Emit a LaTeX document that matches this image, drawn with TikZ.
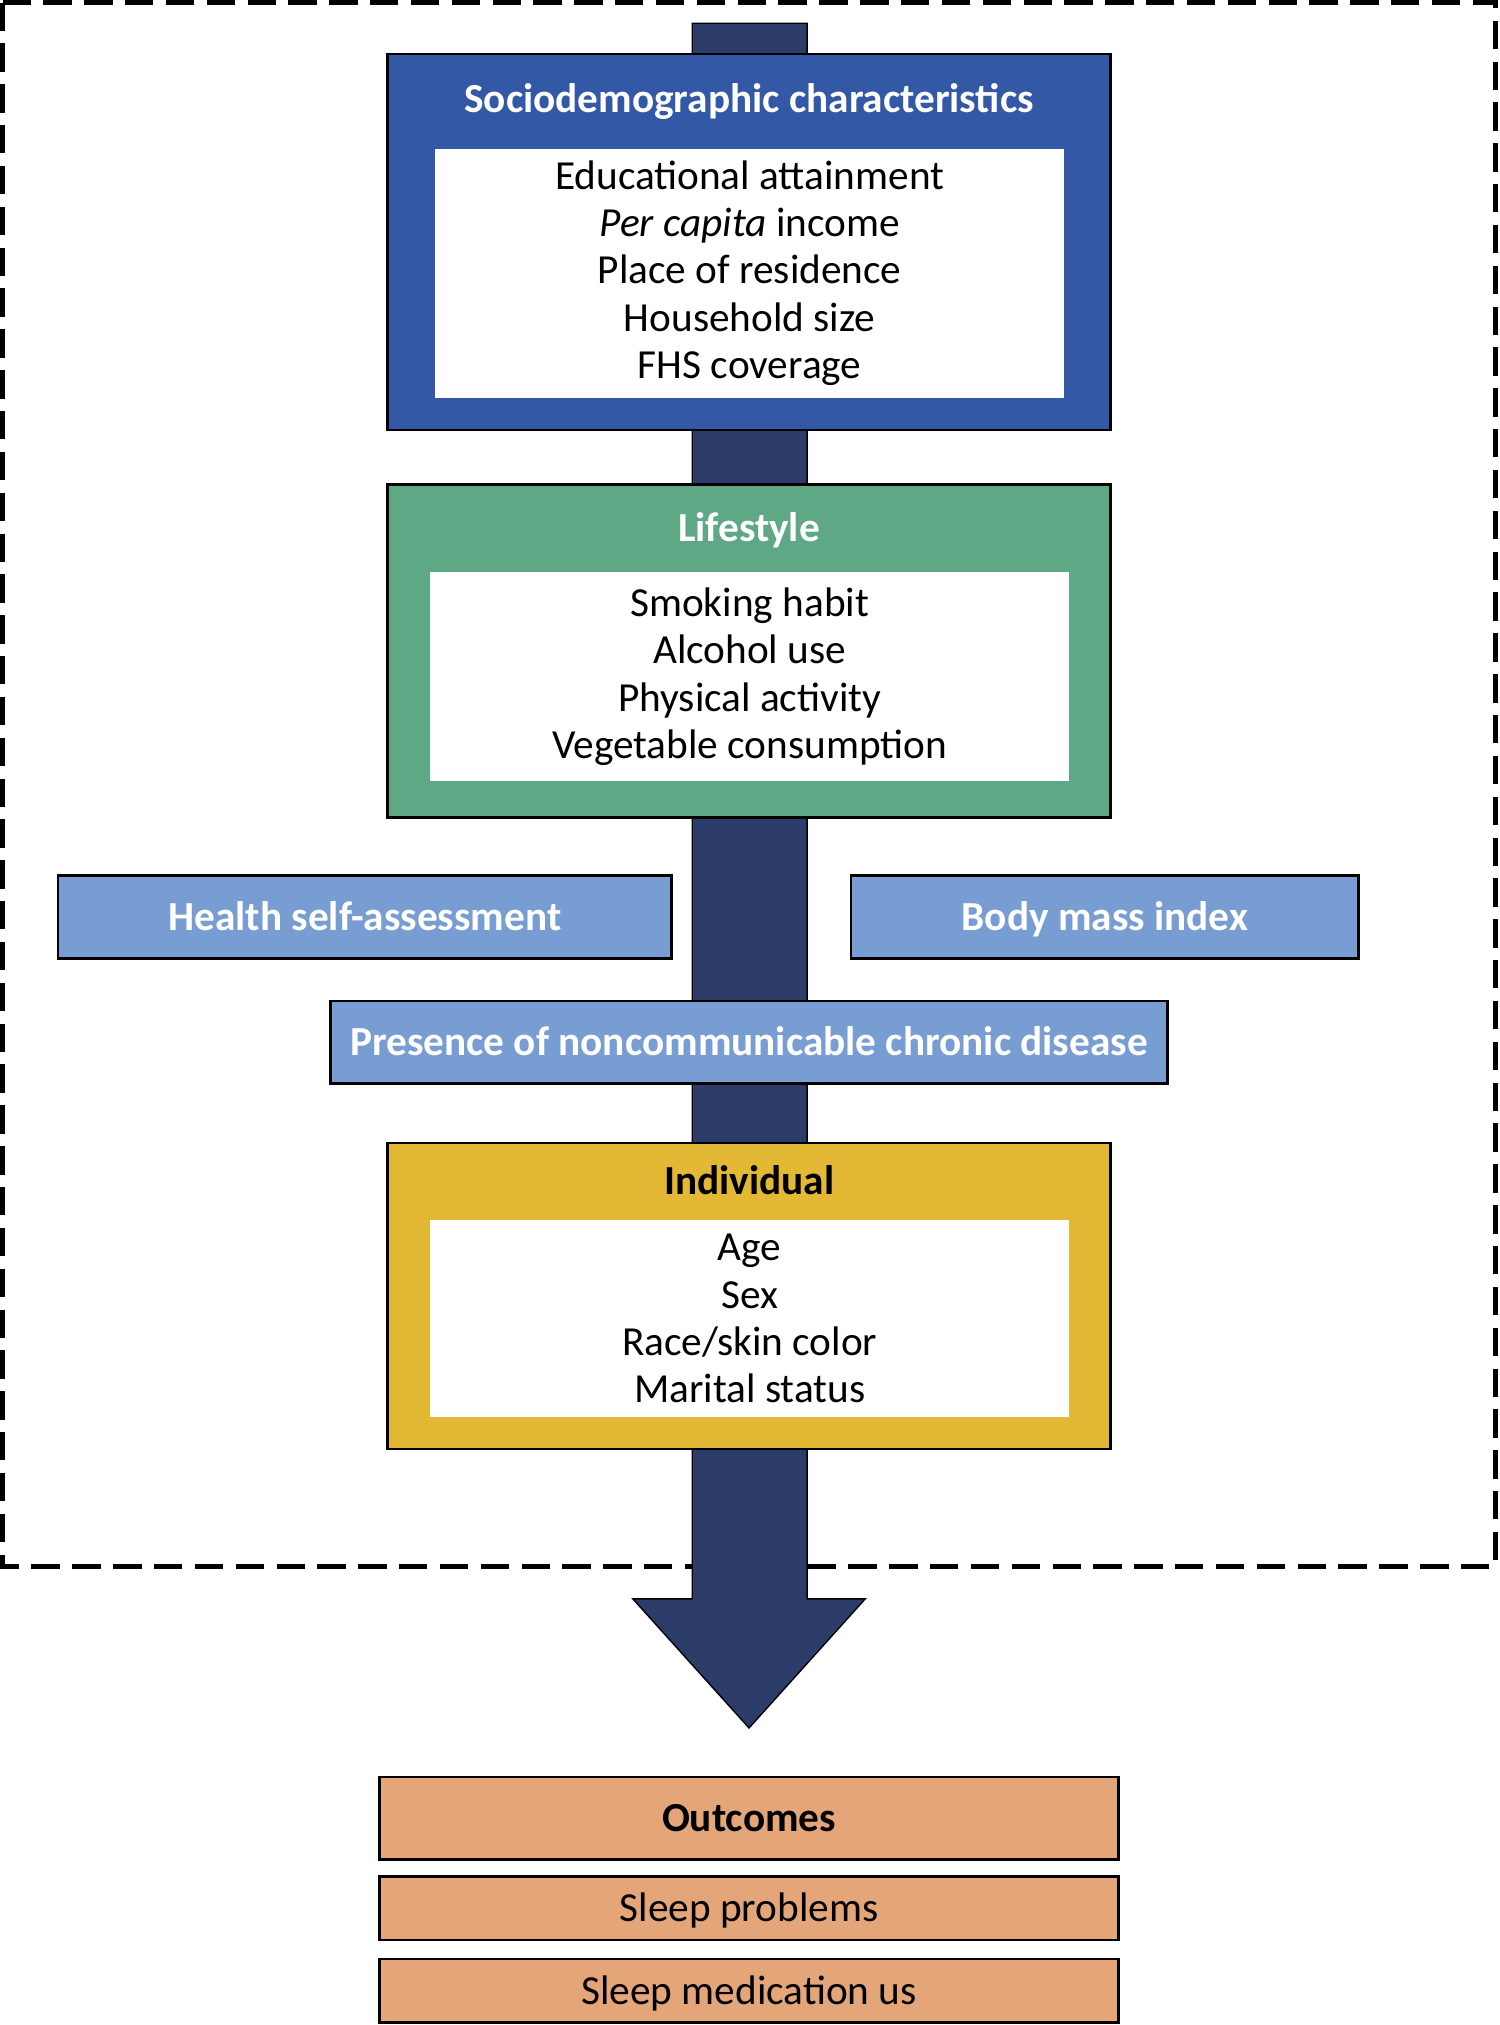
\documentclass[tikz,border=0pt]{standalone}
\usepackage{fontspec}
\setmainfont{Carlito}
\usetikzlibrary{positioning}
\definecolor{SocioBlue}{RGB}{51,88,166}
\definecolor{LifeGreen}{RGB}{94,168,133}
\definecolor{PaleBlue}{RGB}{120,157,210}
\definecolor{IndivYellow}{RGB}{226,184,52}
\definecolor{OutOrange}{RGB}{228,166,121}
\definecolor{ArrowNavy}{RGB}{44,61,106}
\newcommand{\figfont}{\fontsize{18.2}{20.8}\selectfont}

\begin{document}
\begin{tikzpicture}[
    declare function={u=0.02;},
    yscale=-1,x=u*1cm,y=u*1cm,
    box color/.code={\colorlet{boxcolor}{#1}},
    box color=SocioBlue,
    box/.style args={#1/#2 to #3/#4}{%
            draw=black,fill=boxcolor,line width=1.1pt,
            at={(#1,#2)},align=center,
            font=\figfont,
            anchor=north west,outer sep=0pt,inner sep=0pt,
            minimum width={(#3-#1)*u*1cm},
            minimum height={(#4-#2)*u*1cm}},
    list box/.style args={#1/#2 to #3/#4}{box={#1/#2 to #3/#4},
            draw=none,fill=white},
    one line/.style={text height=13pt,text depth=1.3pt},
    head/.style={font=\figfont\bfseries,text=white,one line},
    dark head/.style={font=\figfont\bfseries,text=black,one line}]
    \useasboundingbox (0,0) rectangle (1161,1568);
    % dashed frame round the determinants
    \draw[line width=2.2pt,dash pattern=on 12.5pt off 5.5pt] (2,2) rectangle (1158,1213);
    % the big arrow
    \coordinate (shafttop) at (580,18);
    \coordinate (tip) at (580,1338);
    \filldraw[fill=ArrowNavy,draw=black,line width=0.6pt]
       (536,18) -- (625,18) -- (625,1238) -- (670,1238) -- (tip)
       -- (490,1238) -- (536,1238) -- cycle;
    % sociodemographic
    \node[box=300/42 to 860/333] (socio) {};
    \node[head] (sociohead) at (580,77) {Sociodemographic characteristics};
    \node[list box=337/115 to 824/308] (sociolist)
       {Educational attainment\\\textit{Per capita} income\\Place of residence\\
        Household size\\FHS coverage};
    % lifestyle
    \node[box color=LifeGreen,box=300/375 to 860/633] (life) {};
    \node[head] (lifehead) at (580,409) {Lifestyle};
    \node[list box=333/443 to 828/605] (lifelist)
       {Smoking habit\\Alcohol use\\Physical activity\\Vegetable consumption};
    % health status
    \node[box color=PaleBlue,box=45/678 to 520/742,head] (selfrate) {Health self-assessment};
    \node[box color=PaleBlue,box=659/678 to 1052/742,head] (bmi) {Body mass index};
    \node[box color=PaleBlue,box=256/775 to 904/839,head] (ncd)
       {Presence of noncommunicable chronic disease};
    % individual
    \node[box color=IndivYellow,box=300/885 to 860/1122] (indiv) {};
    \node[dark head] (indivhead) at (580,915) {Individual};
    \node[list box=333/945 to 828/1097] (indivlist)
       {Age\\Sex\\Race/skin color\\Marital status};
    % outcomes
    \node[box color=OutOrange,box=294/1376 to 866/1440,dark head] (outcomes) {Outcomes};
    \node[box color=OutOrange,box=294/1453 to 866/1502,one line] (sleepprob) {Sleep problems};
    \node[box color=OutOrange,box=294/1517 to 866/1566,one line] (sleepmed) {Sleep medication us};
\end{tikzpicture}
\end{document}
